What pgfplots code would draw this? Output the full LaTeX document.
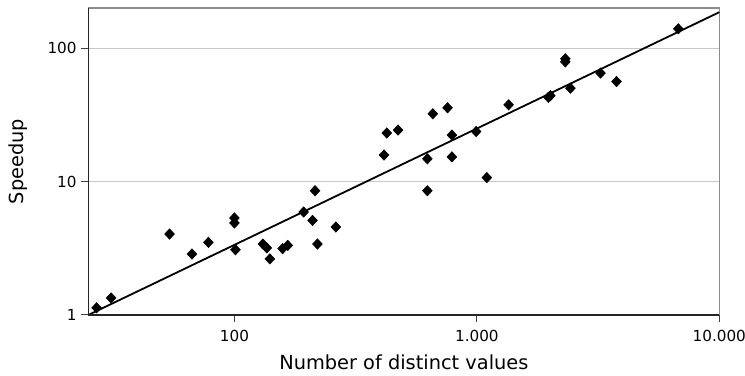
\documentclass[border=0pt]{standalone}
\usepackage{pgfplots}
\pgfplotsset{compat=1.18}
\usepackage{fontspec}
\setmainfont{DejaVu Sans}
\begin{document}
\begin{tikzpicture}
\begin{axis}[
  name=ax,
  scale only axis,
  width=6.31in, height=3.07in,
  xmode=log, ymode=log,
  xmin=25, xmax=10000,
  ymin=1, ymax=200,
  xtick={100,1000,10000},
  xticklabels={100,1.000,10.000},
  ytick={1,10,100},
  yticklabels={1,10,100},
  minor tick num=0,
  minor xtick={}, minor ytick={},
  log basis x=10, log basis y=10,
  tick align=outside,
  major tick length=0.07in,
  tick style={black!75, line width=0.8pt},
  xtick pos=bottom, ytick pos=left,
  ymajorgrids,
  grid style={black!22, line width=0.6pt},
  axis line style={black!45, line width=0.8pt},
  tick label style={font=\fontsize{11}{13}\selectfont},
  xticklabel style={yshift=-0.03in},
  label style={font=\fontsize{14}{16}\selectfont},
  xlabel={Number of distinct values},
  ylabel={Speedup},
  xlabel style={at={(axis description cs:0.5,-0.155)}, anchor=center},
  ylabel style={at={(axis description cs:-0.1117,0.5)}, anchor=center},
  clip=false,
]
\addplot[black, line width=1.3pt] coordinates {(25,1.0) (10000,186)};
\addplot[only marks, mark=diamond*, mark size=0.052in, mark options={xscale=1.25, black, fill=black}] coordinates {
(27.0,1.13)
(31.0,1.34)
(54.0,4.04)
(66.8,2.86)
(78.1,3.50)
(100,5.33)
(100,4.89)
(101,3.08)
(131,3.40)
(136,3.18)
(140,2.63)
(158,3.14)
(166,3.32)
(193,5.91)
(210,5.11)
(215,8.53)
(220,3.40)
(262,4.56)
(414,15.8)
(425,23.1)
(473,24.3)
(625,8.53)
(625,14.8)
(658,32.2)
(757,35.7)
(789,22.3)
(789,15.3)
(993,23.7)
(1099,10.7)
(1352,37.6)
(1972,42.8)
(2010,44.0)
(2317,83.2)
(2317,78.9)
(2432,50.1)
(3236,65.0)
(3767,56.2)
(6776,139.6)
};
\draw[black!85, line width=1pt] (rel axis cs:0,1) -- (rel axis cs:0,0) -- (rel axis cs:1,0);
\end{axis}
\pgfresetboundingbox
\path[use as bounding box] ([xshift=-0.885in,yshift=-0.607in]ax.south west) rectangle ([xshift=0.257in,yshift=0.08in]ax.north east);
\end{tikzpicture}
\end{document}
